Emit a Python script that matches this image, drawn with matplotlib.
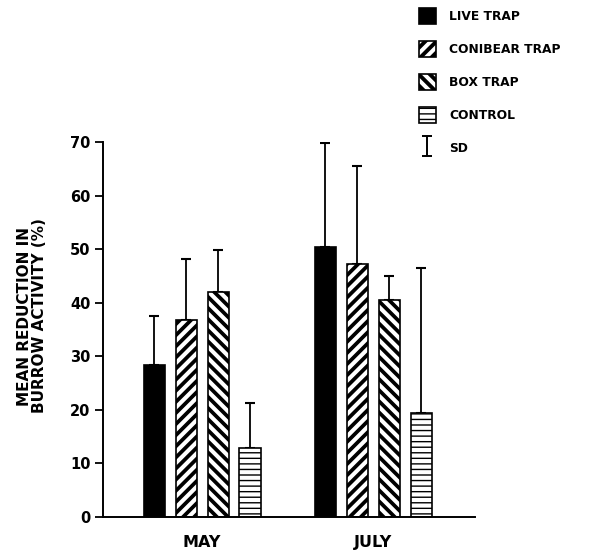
import numpy as np
import matplotlib
matplotlib.use("Agg")
import matplotlib.pyplot as plt
from matplotlib.patches import Patch
from matplotlib.lines import Line2D
from matplotlib.path import Path

months = ["MAY", "JULY"]
treatments = ["LIVE TRAP", "CONIBEAR TRAP", "BOX TRAP", "CONTROL"]
means = {
    "LIVE TRAP": [28.4, 50.4],
    "CONIBEAR TRAP": [36.8, 47.2],
    "BOX TRAP": [42.0, 40.5],
    "CONTROL": [12.9, 19.4],
}
sds = {
    "LIVE TRAP": [9.1, 19.4],
    "CONIBEAR TRAP": [11.3, 18.3],
    "BOX TRAP": [7.8, 4.5],
    "CONTROL": [8.4, 27.1],
}

styles = {
    "LIVE TRAP": dict(facecolor="black", hatch=None, hlw=1.0, leg_hatch=None, leg_hlw=1.0),
    "CONIBEAR TRAP": dict(facecolor="white", hatch="///", hlw=2.7, leg_hatch="///", leg_hlw=2.8),
    "BOX TRAP": dict(facecolor="white", hatch="\\\\\\", hlw=2.7, leg_hatch="\\\\\\", leg_hlw=2.8),
    "CONTROL": dict(facecolor="white", hatch="---", hlw=1.0, leg_hatch="---", leg_hlw=1.0),
}

plt.rcParams["font.family"] = "DejaVu Sans"
plt.rcParams["font.weight"] = "bold"

fig = plt.figure(figsize=(6.01, 5.52), dpi=100)
ax = fig.add_axes([103 / 601, 35 / 552, 372 / 601, 375 / 552])

x = np.arange(len(months))
pitch = 0.187
width = 0.123
offsets = (np.arange(len(treatments)) - 1.5) * pitch

handles = []
for i, t in enumerate(treatments):
    st = styles[t]
    with plt.rc_context({"hatch.linewidth": st["hlw"]}):
        ax.bar(x + offsets[i], means[t], width, facecolor=st["facecolor"],
               edgecolor="black", linewidth=1.2, hatch=st["hatch"], zorder=2)
    handles.append(Patch(facecolor=st["facecolor"], edgecolor="black",
                         linewidth=1.2, hatch=st["leg_hatch"], label=t))
    yerr = np.vstack([np.zeros(len(months)), sds[t]])
    ax.errorbar(x + offsets[i], means[t], yerr=yerr, fmt="none", ecolor="black",
                elinewidth=1.3, capsize=3.5, capthick=1.5, zorder=1)

ax.set_xlim(-0.579, 1.596)
ax.set_ylim(0, 70)
ax.set_yticks(np.arange(0, 71, 10))
ax.set_xticks(x)
ax.set_xticklabels(months)
ax.tick_params(axis="y", direction="out", length=6, width=1.3, labelsize=10.5, pad=3)
ax.tick_params(axis="x", length=0, labelsize=11.5, pad=13)
for s in ["top", "right"]:
    ax.spines[s].set_visible(False)
for s in ["left", "bottom"]:
    ax.spines[s].set_linewidth(1.4)
ax.set_ylabel("MEAN REDUCTION IN\nBURROW ACTIVITY (%)", fontsize=11,
              fontweight="bold", linespacing=1.05)
ax.yaxis.set_label_coords(-0.15, 0.536)

# SD legend symbol
sd_marker = Path([(0, -1), (0, 1), (-0.45, 1), (0.45, 1), (-0.45, -1), (0.45, -1)],
                 [Path.MOVETO, Path.LINETO, Path.MOVETO, Path.LINETO, Path.MOVETO, Path.LINETO])
handles.append(Line2D([], [], linestyle="none", marker=sd_marker, markersize=15,
                      markeredgewidth=1.4, color="black", label="SD"))

leg = fig.legend(handles=handles, loc="upper left", bbox_to_anchor=(414 / 601, 1 - 3 / 552),
                 frameon=False, fontsize=8.8, handlelength=1.4, handleheight=1.7,
                 handletextpad=1.1, labelspacing=1.35, borderaxespad=0)
for p, t in zip(leg.get_patches(), treatments):
    lw = styles[t]["leg_hlw"]
    if hasattr(p, "set_hatch_linewidth"):
        p.set_hatch_linewidth(lw)
    else:
        p._hatch_linewidth = lw

plt.savefig("out.png", dpi=100)
plt.close()
